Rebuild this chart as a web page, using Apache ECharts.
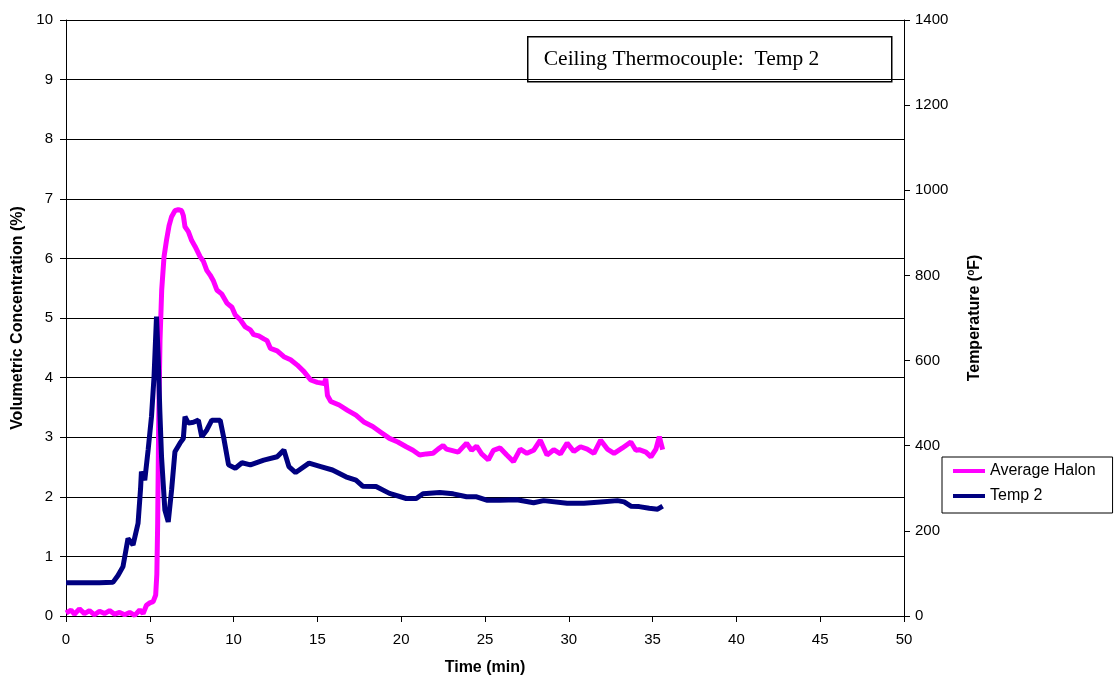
<!DOCTYPE html>
<html>
<head>
<meta charset="utf-8">
<script src="https://cdn.jsdelivr.net/npm/echarts@6/dist/echarts.min.js"></script>
<style>
html,body{margin:0;padding:0;background:#fff;}
#chart{width:1119px;height:687px;}
</style>
</head>
<body>
<div id="chart"></div>
<script>
var haloTime = [0.0,0.3,0.5,0.8,1.1,1.4,1.7,2.0,2.3,2.6,2.9,3.2,3.5,3.8,4.1,4.4,4.6,4.8,5.0,5.2,5.35,5.42,5.47,5.53,5.61,5.71,5.85,6.0,6.15,6.3,6.5,6.7,6.9,7.0,7.1,7.3,7.5,7.7,8.0,8.2,8.4,8.6,8.8,9.0,9.3,9.6,9.9,10.1,10.4,10.7,11.0,11.2,11.5,11.8,12.0,12.2,12.6,13.0,13.4,13.8,14.2,14.6,15.0,15.4,15.5,15.6,15.8,16.3,16.8,17.3,17.8,18.3,18.8,19.3,19.8,20.3,20.7,21.1,21.5,21.9,22.2,22.5,22.7,23.0,23.4,23.9,24.2,24.5,24.8,25.2,25.5,25.9,26.3,26.7,27.1,27.5,27.9,28.3,28.7,29.1,29.5,29.9,30.3,30.7,31.1,31.5,31.9,32.3,32.7,33.2,33.7,34.0,34.2,34.6,34.9,35.2,35.4,35.6];
var haloValues = [0.05,0.10,0.03,0.12,0.04,0.09,0.02,0.08,0.04,0.09,0.03,0.06,0.02,0.06,0.01,0.10,0.04,0.18,0.22,0.24,0.35,0.7,1.56,3.24,4.63,5.47,6.03,6.31,6.55,6.70,6.80,6.82,6.80,6.72,6.53,6.45,6.30,6.20,6.03,5.95,5.80,5.72,5.62,5.47,5.40,5.25,5.18,5.05,4.97,4.85,4.80,4.72,4.70,4.65,4.62,4.49,4.45,4.35,4.30,4.21,4.10,3.96,3.92,3.90,3.98,3.70,3.60,3.54,3.45,3.37,3.25,3.18,3.08,2.98,2.92,2.84,2.78,2.70,2.72,2.73,2.80,2.86,2.80,2.78,2.75,2.90,2.78,2.85,2.72,2.62,2.78,2.82,2.70,2.59,2.80,2.73,2.78,2.95,2.70,2.79,2.72,2.90,2.76,2.84,2.80,2.73,2.95,2.80,2.73,2.82,2.92,2.78,2.79,2.75,2.67,2.80,3.01,2.79];

var tempTime = [0,1.0,2.0,2.8,3.1,3.4,3.6,3.7,3.85,4.0,4.3,4.45,4.5,4.7,4.9,5.1,5.25,5.4,5.5,5.6,5.7,5.9,6.1,6.3,6.5,6.8,7.0,7.1,7.3,7.6,7.9,8.1,8.4,8.7,9.2,9.4,9.7,10.1,10.5,11.0,11.8,12.6,13.0,13.3,13.7,14.5,15.2,15.9,16.7,17.3,17.7,18.5,19.3,20.3,20.9,21.3,22.3,23.1,23.9,24.5,25.1,25.9,26.9,27.9,28.5,29.9,30.9,31.9,32.9,33.3,33.7,34.2,34.8,35.3,35.6];
var tempValues = [78,78,78,79,95,116,160,182,175,167,218,300,339,319,390,468,560,703,609,480,374,249,221,296,386,406,417,468,453,455,460,421,437,460,460,421,355,347,360,355,366,374,390,351,337,359,351,343,327,319,305,304,288,276,276,287,290,287,280,280,272,272,273,266,271,265,265,268,271,268,258,257,253,251,258];

var xTicks = [0,5,10,15,20,25,30,35,40,45,50];
var leftTicks = [0,1,2,3,4,5,6,7,8,9,10];
var rightTicks = [0,200,400,600,800,1000,1200,1400];

var seriesNames = ['Average Halon','Temp 2'];
var titleText = 'Ceiling Thermocouple:  Temp 2';

function pairs(ts, vs){ return ts.map(function(t,i){ return [t, vs[i]]; }); }

var chart = echarts.init(document.getElementById('chart'), null, {renderer:'canvas'});
var font = 'Arial, "Liberation Sans", sans-serif';
var option = {
  animation: false,
  backgroundColor: '#fff',
  grid: {left: 66, right: 215, top: 20, bottom: 71, containLabel: false},
  xAxis: {
    type: 'value', min: xTicks[0], max: xTicks[xTicks.length-1], interval: 5,
    name: 'Time (min)', nameLocation: 'middle', nameGap: 44,
    nameTextStyle: {fontFamily: font, fontSize: 16, fontWeight: 'bold', color: '#000'},
    axisLine: {show: true, onZero: false, lineStyle: {color: '#000', width: 1}},
    axisTick: {show: true, inside: false, length: 6, lineStyle: {color: '#000'}},
    axisLabel: {fontFamily: font, fontSize: 15, color: '#000', margin: 16},
    splitLine: {show: false}
  },
  yAxis: [{
    type: 'value', min: leftTicks[0], max: leftTicks[leftTicks.length-1], interval: 1,
    position: 'left',
    name: 'Volumetric Concentration (%)', nameLocation: 'middle', nameGap: 40, nameRotate: 90,
    nameTextStyle: {fontFamily: font, fontSize: 16, fontWeight: 'bold', color: '#000'},
    axisLine: {show: true, lineStyle: {color: '#000', width: 1}},
    axisTick: {show: true, inside: false, length: 6, lineStyle: {color: '#000'}},
    axisLabel: {fontFamily: font, fontSize: 15, color: '#000', margin: 13},
    splitLine: {show: true, lineStyle: {color: '#000', width: 1}}
  },{
    type: 'value', min: rightTicks[0], max: rightTicks[rightTicks.length-1], interval: 200,
    position: 'right',
    name: 'Temperature ({sup|o}F)', nameLocation: 'middle', nameGap: 62, nameRotate: 90,
    nameTextStyle: {fontFamily: font, fontSize: 16, fontWeight: 'bold', color: '#000',
      rich: {sup: {fontFamily: font, fontSize: 10, fontWeight: 'bold', color: '#000', verticalAlign: 'top', padding: [0,0,7,0]}}},
    axisLine: {show: true, lineStyle: {color: '#000', width: 1}},
    axisTick: {show: true, inside: false, length: 6, lineStyle: {color: '#000'}},
    axisLabel: {fontFamily: font, fontSize: 15, color: '#000', margin: 11,
      formatter: function(v){ return String(v); }},
    splitLine: {show: false}
  }],
  legend: {
    show: true, orient: 'vertical', left: 942, top: 457,
    padding: [6, 17, 9, 11], itemGap: 9,
    borderColor: '#000', borderWidth: 1, backgroundColor: '#fff',
    icon: 'rect', itemWidth: 32, itemHeight: 4,
    textStyle: {fontFamily: font, fontSize: 16, lineHeight: 16, color: '#000'},
    data: seriesNames
  },
  graphic: [{
    type: 'group', left: 527, top: 36,
    children: [
      {type: 'rect', shape: {x: 0, y: 0, width: 364, height: 45}, style: {fill: '#fff', stroke: '#000', lineWidth: 1.5}},
      {type: 'text', x: 16, y: 23, style: {text: titleText, fontFamily: '"Liberation Serif", "Times New Roman", serif', fontSize: 21.5, fill: '#000', verticalAlign: 'middle'}}
    ]
  }],
  series: [{
    name: seriesNames[0], type: 'line', yAxisIndex: 0, showSymbol: false, symbol: 'none',
    data: pairs(haloTime, haloValues),
    lineStyle: {color: '#FF00FF', width: 5}, itemStyle: {color: '#FF00FF'}
  },{
    name: seriesNames[1], type: 'line', yAxisIndex: 1, showSymbol: false, symbol: 'none',
    data: pairs(tempTime, tempValues),
    lineStyle: {color: '#000080', width: 5}, itemStyle: {color: '#000080'}
  }]
};
chart.setOption(option);
</script>
</body>
</html>
